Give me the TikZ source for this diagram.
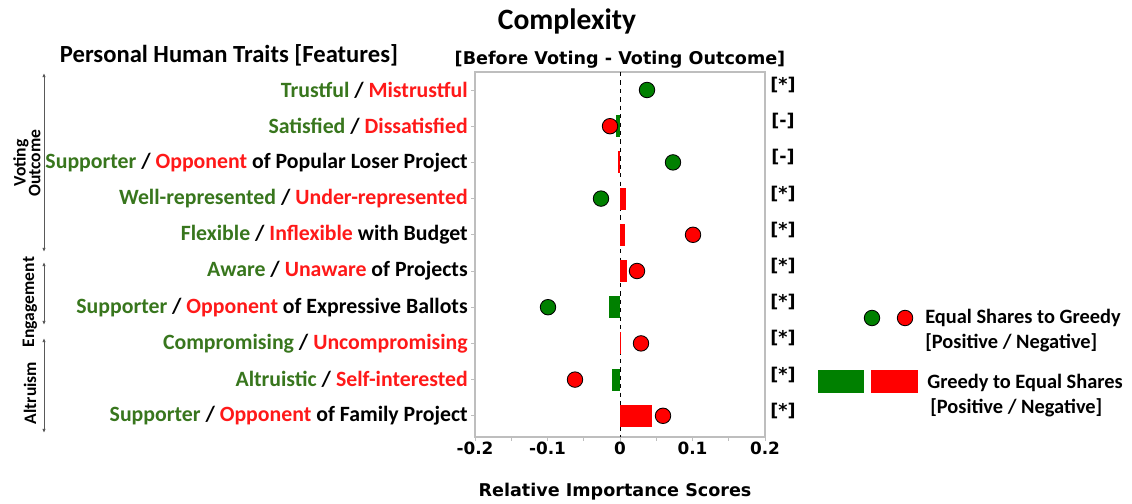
\documentclass[tikz,border=0pt]{standalone}
\usepackage{fontspec}
\setmainfont{Carlito}
\newfontfamily\plotfont{DejaVu Sans}
\usetikzlibrary{positioning,arrows.meta}

\definecolor{trgreen}{RGB}{56,118,29}
\definecolor{trred}{RGB}{255,25,25}
\definecolor{dotgreen}{RGB}{0,128,0}
\definecolor{dotred}{RGB}{255,0,0}
\definecolor{frame}{RGB}{190,190,190}

\newcommand{\pos}[1]{\textcolor{trgreen}{#1}}
\newcommand{\negt}[1]{\textcolor{trred}{#1}}

\tikzset{
  trait/.style={anchor=east, inner sep=0pt, font=\bfseries\fontsize{15.5}{17}\selectfont},
  dot/.style={circle, draw=black, line width=0.6pt, minimum size=11pt, inner sep=0pt},
  sig/.style={inner sep=0pt, font=\plotfont\bfseries\fontsize{12.5}{14}\selectfont},
  ticklab/.style={inner sep=0pt, font=\plotfont\bfseries\fontsize{12}{14}\selectfont},
  group/.style={rotate=90, inner sep=0pt, align=center, font=\bfseries\fontsize{12.5}{10.5}\selectfont},
  bracket/.style={{Latex[length=3pt,width=2.5pt]}-{Latex[length=3pt,width=2.5pt]}, gray!70!black, line width=0.6pt},
  legtext/.style={anchor=west, inner sep=0pt, font=\bfseries\fontsize{14.5}{16}\selectfont}
}

\begin{document}
\begin{tikzpicture}[x=0.025cm, y=-0.025cm]
  \useasboundingbox (0,0) rectangle (1132,504);

  % titles
  \node[inner sep=0pt, font=\bfseries\fontsize{21}{23}\selectfont] (title) at (567,21) {Complexity};
  \node[inner sep=0pt, font=\bfseries\fontsize{17.5}{19}\selectfont] (features) at (229,55) {Personal Human Traits [Features]};
  \node[sig] (before) at (620,60) {[Before Voting - Voting Outcome]};

  % frame and zero line
  \draw[frame, line width=1pt] (475,72) rectangle (765,437);
  \draw[dashed, line width=0.5pt] (620,72) -- (620,437);
  \foreach \t in {475,511.25,547.5,583.75,620,656.25,692.5,728.75,765}
    \draw[frame, line width=0.5pt] (\t,437) -- (\t,441);

  % bars  (from/to/colour/row)
  \foreach \a/\b/\c/\r in {616/620/dotgreen/2, 618/620/dotred/3, 620/626/dotred/4,
                           620/625/dotred/5, 620/627/dotred/6, 609/620/dotgreen/7,
                           620/621/dotred/8, 612/620/dotgreen/9, 620/652/dotred/10}
    \fill[\c] (\a,{90+36.2*(\r-1)-11}) rectangle (\b,{90+36.2*(\r-1)+11});

  % traits
  \foreach \r in {1,...,10}
    \draw[frame, line width=0.5pt] (471,{90+36.2*(\r-1)}) -- (475,{90+36.2*(\r-1)});
  \node[trait] (t1)  at (468,90)    {\pos{Trustful} / \negt{Mistrustful}};
  \node[trait] (t2)  at (468,126.2) {\pos{Satisfied} / \negt{Dissatisfied}};
  \node[trait] (t3)  at (468,162.4) {\pos{Supporter} / \negt{Opponent} of Popular Loser Project};
  \node[trait] (t4)  at (468,198.6) {\pos{Well-represented} / \negt{Under-represented}};
  \node[trait] (t5)  at (468,234.8) {\pos{Flexible} / \negt{Inflexible} with Budget};
  \node[trait] (t6)  at (468,271)   {\pos{Aware} / \negt{Unaware} of Projects};
  \node[trait] (t7)  at (468,307.2) {\pos{Supporter} / \negt{Opponent} of Expressive Ballots};
  \node[trait] (t8)  at (468,343.4) {\pos{Compromising} / \negt{Uncompromising}};
  \node[trait] (t9)  at (468,379.6) {\pos{Altruistic} / \negt{Self-interested}};
  \node[trait] (t10) at (468,415.8) {\pos{Supporter} / \negt{Opponent} of Family Project};

  % scores
  \foreach \x/\c/\r/\s in {647/dotgreen/1/*, 610/dotred/2/-, 673/dotgreen/3/-, 601/dotgreen/4/*,
                           693/dotred/5/*, 637/dotred/6/*, 548/dotgreen/7/*, 641/dotred/8/*,
                           575/dotred/9/*, 663/dotred/10/*} {
    \node[dot, fill=\c] (d\r) at (\x,{90+36.2*(\r-1)}) {};
    \node[sig] (s\r) at (783,{85+36.2*(\r-1)}) {[\s]};
  }

  % x axis
  \node[ticklab] (xa) at (475,448) {-0.2};
  \node[ticklab] (xb) at (547.5,448) {-0.1};
  \node[ticklab] (xc) at (620,448) {0};
  \node[ticklab] (xd) at (692.5,448) {0.1};
  \node[ticklab] (xe) at (765,448) {0.2};
  \node[sig] (xlabel) at (615,492) {Relative Importance Scores};

  % groups
  \coordinate (vo1) at (44,73);
  \coordinate (vo2) at (44,252);
  \coordinate (en1) at (44,262);
  \coordinate (en2) at (44,325);
  \coordinate (al1) at (44,338);
  \coordinate (al2) at (44,433);
  \draw[bracket] (vo1) -- (vo2);
  \draw[bracket] (en1) -- (en2);
  \draw[bracket] (al1) -- (al2);
  \node[group] (voting) at (27,163) {Voting\\Outcome};
  \node[group] (engage) at (30,302) {Engagement};
  \node[group] (altru) at (30,393) {Altruism};

  % legend
  \node[dot, fill=dotgreen] (lg1) at (872,318) {};
  \node[dot, fill=dotred, right=23.5pt of lg1.center, anchor=center] (lg2) {};
  \node[legtext] (leg1) at (925,318) {Equal Shares to Greedy};
  \node[legtext] (leg1b) at (925,343) {[Positive / Negative]};
  \fill[dotgreen] (818,370) rectangle (864,393);
  \fill[dotred] (871,370) rectangle (918,393);
  \node[legtext] (leg2) at (927,383) {Greedy to Equal Shares};
  \node[legtext] (leg2b) at (930,408) {[Positive / Negative]};
\end{tikzpicture}
\end{document}
